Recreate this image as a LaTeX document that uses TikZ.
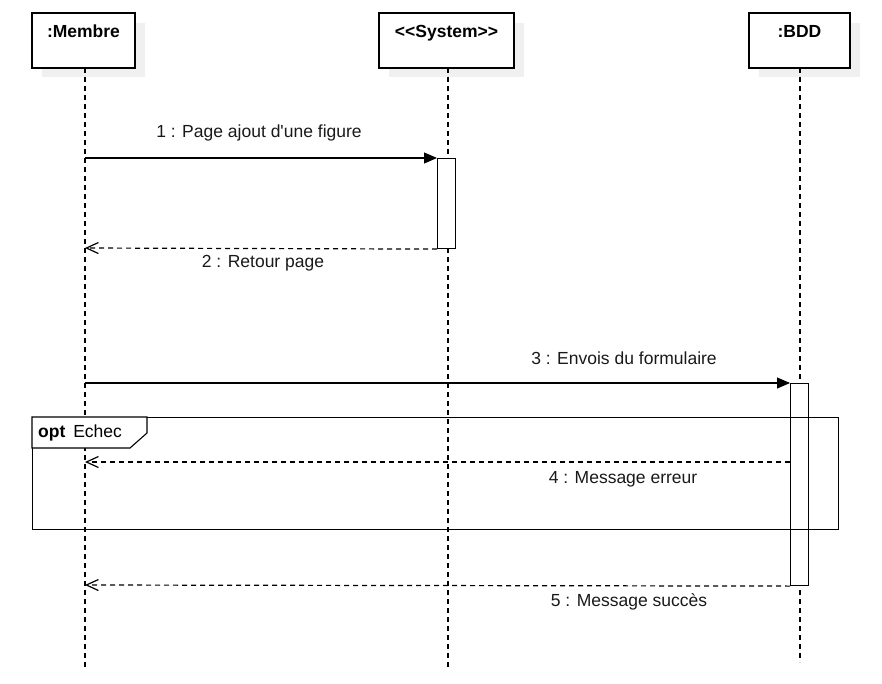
\documentclass[tikz,border=0pt]{standalone}
\usepackage{fontspec}
\setmainfont{Liberation Sans}
\usetikzlibrary{arrows.meta,calc}
\begin{document}
\begin{tikzpicture}[x=1pt,y=-1pt,
  every node/.style={font=\fontsize{17.5}{20}\selectfont},
  lifebox/.style={draw=black,line width=1.1pt,fill=white,inner sep=0pt,minimum width=103pt,
    text height=24.5pt,text depth=30.5pt,font=\fontsize{17.5}{20}\selectfont\bfseries},
  lifeline/.style={line width=1.2pt,dash pattern=on 5pt off 4pt},
  actbox/.style={draw=black,line width=1.1pt,fill=white},
  syncmsg/.style={line width=1.1pt,-{Triangle[length=13pt,width=11pt]}},
  retmsg/.style={line width=1.2pt,dash pattern=on 5pt off 4pt,-{Straight Barb[length=12pt,width=11pt]}},
  msglabel/.style={inner sep=0pt,text=black!90},
  frameline/.style={draw=black,line width=1.1pt}]
\useasboundingbox (0,0) rectangle (882,684);
% shadows
\fill[black!6] (42,23) rectangle (145,77);
\fill[black!6] (389,23) rectangle (524,77);
\fill[black!6] (759,23) rectangle (860,77);
% lifeline boxes
\node[lifebox,minimum width=103pt] (mem) at (83.5,40.5) {:Membre};
\node[lifebox,minimum width=135pt] (sys) at (446.5,40.5) {<{}<System>{}>};
\node[lifebox,minimum width=101pt] (bdd) at (799.5,40.5) {:BDD};
% lifeline coordinates
\coordinate (memE) at (85,670);
\coordinate (sysE) at (448,670);
\coordinate (bddE) at (800,662);
\draw[lifeline] (85,68) -- (memE);
\draw[lifeline] (448,68) -- (sysE);
\draw[lifeline] (800,68) -- (bddE);
% activations
\node[actbox,minimum width=18pt,minimum height=90pt,inner sep=0pt,anchor=north west] (act1) at (437,158) {};
\node[actbox,minimum width=18pt,minimum height=202pt,inner sep=0pt,anchor=north west] (act2) at (790,383) {};
% message endpoints on Membre lifeline
\coordinate (m1) at (85,158);
\coordinate (m2) at (85,248);
\coordinate (m3) at (85,383);
\coordinate (m4) at (85,462);
\coordinate (m5) at (85,585);
% messages
\draw[syncmsg] (m1) -- (act1.north west);
\node[msglabel] (l1) at (259,133) {1 : Page ajout d\textquotesingle une figure};
\draw[retmsg] (act1.south west) -- (m2);
\node[msglabel] (l2) at (263,263) {2 : Retour page};
\draw[syncmsg] (m3) -- (act2.north west);
\node[msglabel] (l3) at (624,358) {3 : Envois du formulaire};
\draw[retmsg] (act2.west |- m4) -- (m4);
\node[msglabel] (l4) at (623,479) {4 : Message erreur};
\draw[retmsg] (act2.south west) -- (m5);
\node[msglabel] (l5) at (629,602) {5 : Message succès};
% opt frame
\node[frameline,minimum width=806pt,minimum height=112pt,inner sep=0pt,anchor=north west] (opt) at (32,417) {};
\filldraw[frameline,fill=white] (32,417) -- (32,448) -- (130,448) -- (147,433) -- (147,417) -- cycle;
\node[inner sep=0pt,anchor=west] (optl) at (38,432.5) {\textbf{opt}\hspace{0.45em}Echec};
\end{tikzpicture}
\end{document}
